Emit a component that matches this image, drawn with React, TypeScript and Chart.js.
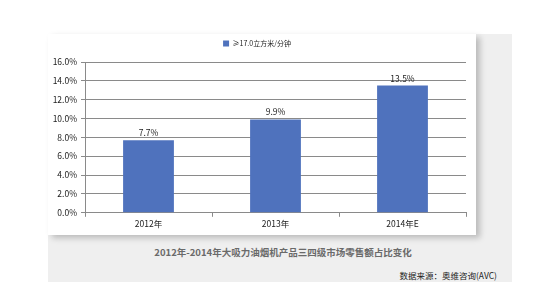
import React, { useEffect, useRef } from "react";
import { Chart, registerables } from "chart.js";

Chart.register(...registerables);

const categories = ["2012年", "2013年", "2014年E"];
const seriesName = "≥17.0立方米/分钟";
const shareValues = [7.7, 9.9, 13.5];
const yTicks = [0, 2, 4, 6, 8, 10, 12, 14, 16];
const titleText = "2012年-2014年大吸力油烟机产品三四级市场零售额占比变化";
const sourceText = "数据来源：奥维咨询(AVC)";

const FONT = '"Noto Sans CJK SC", "Noto Sans", sans-serif';

const valueLabels = {
  id: "valueLabels",
  afterInit(chart: any) {
    const lg = chart.legend;
    if (lg && !lg.__patched) {
      const orig = lg.fit.bind(lg);
      lg.fit = () => {
        orig();
        lg.height += 5;
      };
      lg.__patched = true;
    }
  },
  afterDatasetsDraw(chart: any) {
    const ctx = chart.ctx;
    const meta = chart.getDatasetMeta(0);
    ctx.save();
    ctx.font = `8.5px ${FONT}`;
    ctx.fillStyle = "#222";
    ctx.textAlign = "center";
    ctx.textBaseline = "bottom";
    meta.data.forEach((bar: any, i: number) => {
      ctx.fillText(shareValues[i].toFixed(1) + "%", bar.x, bar.y - 3);
    });
    ctx.restore();
  },
};

export default function App() {
  const ref = useRef<HTMLCanvasElement>(null);
  useEffect(() => {
    const chart = new Chart(ref.current!, {
      type: "bar",
      data: {
        labels: categories,
        datasets: [
          {
            label: seriesName,
            data: shareValues,
            backgroundColor: "#4f72bd",
            borderWidth: 0,
            categoryPercentage: 1,
            barPercentage: 0.4,
          },
        ],
      },
      options: {
        animation: false,
        responsive: false,
        maintainAspectRatio: false,
        layout: { padding: { left: 0, right: 10, top: 0, bottom: 4 } },
        plugins: {
          legend: {
            position: "top",
            labels: {
              boxWidth: 6,
              boxHeight: 6,
              padding: 6,
              color: "#222",
              font: { size: 7, family: FONT },
            },
          },
          tooltip: { enabled: false },
          title: { display: false },
        },
        scales: {
          x: {
            grid: {
              display: true,
              drawOnChartArea: false,
              tickLength: 4,
              color: "#8a8a8a",
            },
            border: { color: "#8a8a8a" },
            ticks: {
              color: "#222",
              font: { size: 8.5, family: FONT },
              padding: 2,
            },
          },
          y: {
            min: 0,
            max: 16,
            afterFit(scale: any) {
              scale.width = 37;
            },
            afterBuildTicks(scale: any) {
              scale.ticks = yTicks.map((v) => ({ value: v }));
            },
            grid: { color: "#8a8a8a", tickLength: 4 },
            border: { color: "#8a8a8a" },
            ticks: {
              color: "#222",
              font: { size: 8.5, family: FONT },
              padding: 4,
              callback: (v: any) => Number(v).toFixed(1) + "%",
            },
          },
        },
      },
      plugins: [valueLabels],
    });
    return () => chart.destroy();
  }, []);

  return (
    <div
      style={{
        position: "fixed",
        left: 0,
        top: 0,
        width: 533,
        height: 287,
        background: "#fff",
        overflow: "hidden",
        fontFamily: FONT,
      }}
    >
      <div
        style={{
          position: "absolute",
          left: 48,
          top: 34,
          width: 464,
          height: 248,
          background: "#efefef",
        }}
      />
      <div
        style={{
          position: "absolute",
          left: 48,
          top: 34,
          width: 428,
          height: 201,
          background: "#fff",
          boxShadow: "4px 3px 6px rgba(0,0,0,0.22)",
        }}
      >
        <canvas ref={ref} width={428} height={201} style={{ display: "block" }} />
      </div>
      <div
        style={{
          position: "absolute",
          left: 0,
          width: 566,
          top: 245,
          textAlign: "center",
          fontSize: 9.5,
          fontWeight: "bold",
          color: "#6a6a6a",
          lineHeight: "14px",
          whiteSpace: "nowrap",
        }}
      >
        {titleText}
      </div>
      <div
        style={{
          position: "absolute",
          right: 36,
          top: 269,
          fontSize: 8.5,
          color: "#222",
          lineHeight: "13px",
          whiteSpace: "nowrap",
        }}
      >
        {sourceText}
      </div>
    </div>
  );
}
